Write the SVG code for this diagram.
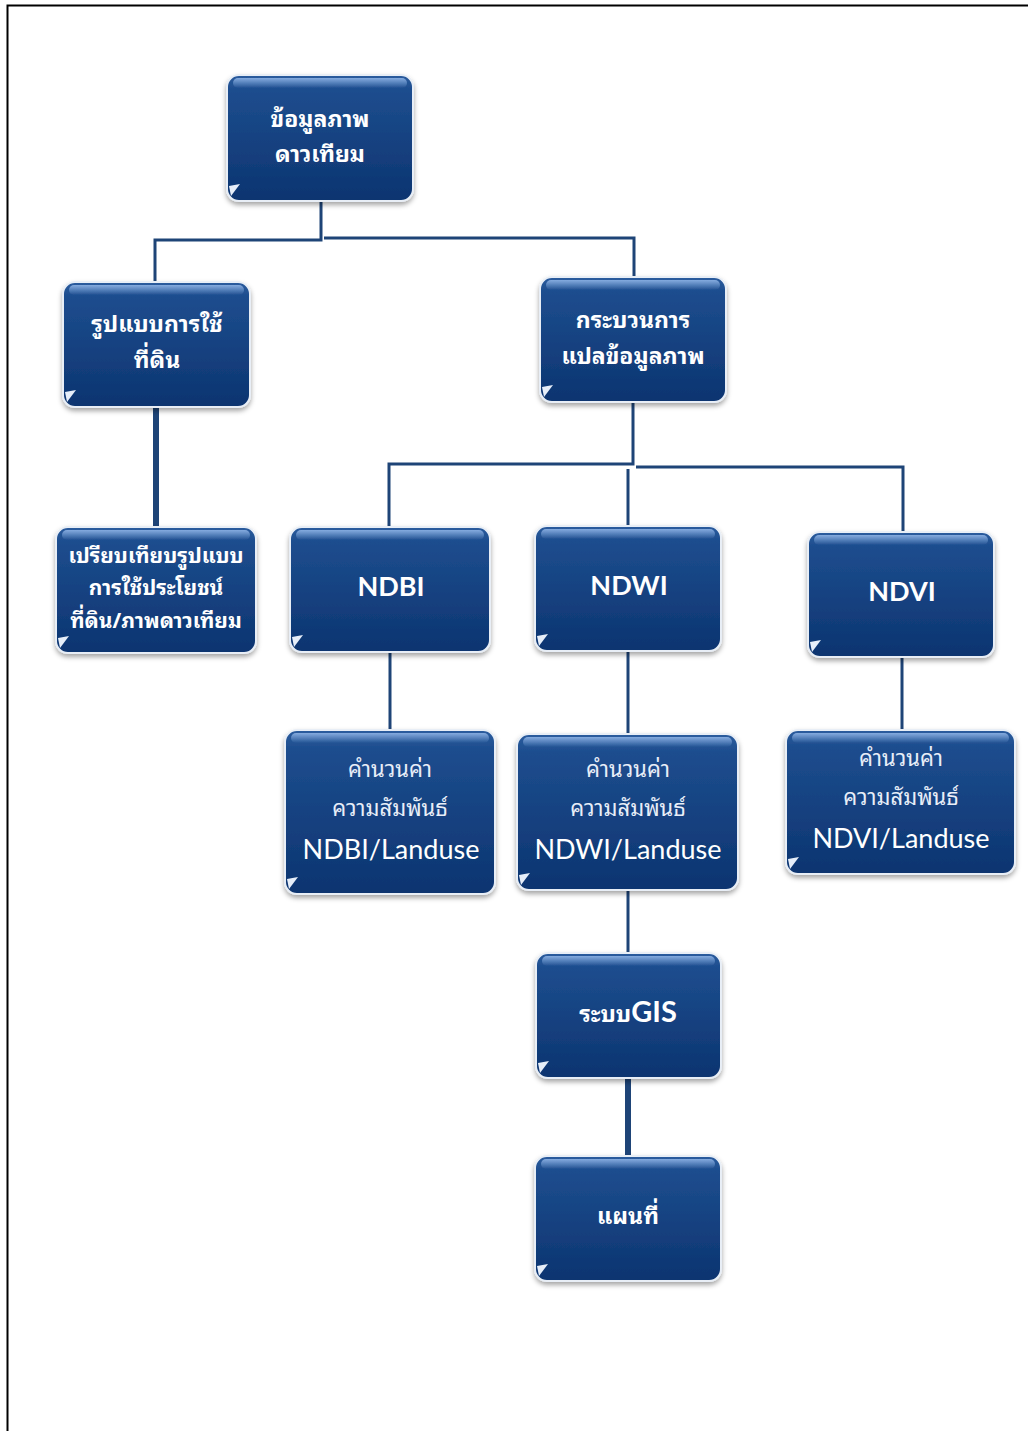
<svg xmlns="http://www.w3.org/2000/svg" width="1028" height="1431" viewBox="0 0 1028 1431">
<defs>
<linearGradient id="boxg" x1="0" y1="0" x2="0" y2="1">
<stop offset="0" stop-color="#2b5c9e"/>
<stop offset="0.12" stop-color="#1d4d8e"/>
<stop offset="1" stop-color="#0c3470"/>
</linearGradient>
<linearGradient id="hi" x1="0" y1="0" x2="0" y2="1">
<stop offset="0" stop-color="#8fb4e6" stop-opacity="0.9"/>
<stop offset="1" stop-color="#8fb4e6" stop-opacity="0"/>
</linearGradient>
<filter id="sh" x="-10%" y="-10%" width="120%" height="125%">
<feDropShadow dx="0" dy="3" stdDeviation="2.5" flood-color="#000" flood-opacity="0.35"/>
</filter>
<style>
.box{fill:url(#boxg);stroke:#e8eef6;stroke-width:2;filter:url(#sh)}
.hl{fill:url(#hi)}
.tri{fill:#e6eef9}
.th{font-family:"Noto Sans Thai Looped","Loma","Garuda","Tahoma","Noto Serif Thai","Noto Sans Thai","DejaVu Sans",sans-serif;fill:#fff;text-anchor:middle}
.thb{font-size:23px;font-weight:bold}
.thl{font-size:22px;font-weight:normal;fill:#e8eef8}
.en{font-family:"Lato","Open Sans","Liberation Sans",sans-serif;fill:#fff;text-anchor:middle}
.enb{font-size:27px;font-weight:bold}
.enl{font-size:27px;font-weight:normal}
.c{stroke:#1e4477;stroke-width:3;fill:none}
.ct{stroke:#1e4477;stroke-width:6;fill:none}
</style>
</defs>
<rect x="0" y="0" width="1028" height="1431" fill="#fff"/>
<path d="M7.5 1431 V5.5 H1028" fill="none" stroke="#000" stroke-width="2"/>

<g id="connectors">
<path class="c" d="M321 201 V240 H155 V281"/>
<path class="c" d="M324 238 H634 V277"/>
<path class="ct" d="M156 407 V527"/>
<path class="c" d="M633 402 V464 H389 V526"/>
<path class="c" d="M636 467 H903 V531"/>
<path class="c" d="M628 469 V525"/>
<path class="c" d="M390 652 V729"/>
<path class="c" d="M628 650 V733"/>
<path class="c" d="M902 657 V729" stroke-width="4"/>
<path class="c" d="M628 890 V952"/>
<path class="ct" d="M628 1078 V1156" stroke-width="5"/>
</g>

<g id="n1">
<rect class="box" x="227" y="75" width="186" height="126" rx="12"/>
<rect class="hl" x="233" y="78" width="174" height="10" rx="5"/>
<path class="tri" d="M229 186 L240 184 L231 196 Z"/>
<text class="th thb" x="320" y="127">ข้อมูลภาพ</text>
<text class="th thb" x="320" y="162">ดาวเทียม</text>
</g>

<g id="n2">
<rect class="box" x="63" y="282" width="187" height="125" rx="12"/>
<rect class="hl" x="69" y="285" width="175" height="10" rx="5"/>
<path class="tri" d="M65 392 L76 390 L67 402 Z"/>
<text class="th thb" x="157" y="332">รูปแบบการใช้</text>
<text class="th thb" x="157" y="368">ที่ดิน</text>
</g>

<g id="n3">
<rect class="box" x="540" y="277" width="186" height="125" rx="12"/>
<rect class="hl" x="546" y="280" width="174" height="10" rx="5"/>
<path class="tri" d="M542 387 L553 385 L544 397 Z"/>
<text class="th thb" x="633" y="328">กระบวนการ</text>
<text class="th thb" x="633" y="364">แปลข้อมูลภาพ</text>
</g>

<g id="n4">
<rect class="box" x="56" y="527" width="200" height="126" rx="12"/>
<rect class="hl" x="62" y="530" width="188" height="10" rx="5"/>
<path class="tri" d="M58 638 L69 636 L60 648 Z"/>
<text class="th" font-size="21" font-weight="bold" x="156" y="563">เปรียบเทียบรูปแบบ</text>
<text class="th" font-size="21" font-weight="bold" x="156" y="595">การใช้ประโยชน์</text>
<text class="th" font-size="21" font-weight="bold" x="156" y="628">ที่ดิน/ภาพดาวเทียม</text>
</g>

<g id="n5">
<rect class="box" x="290" y="527" width="200" height="125" rx="12"/>
<rect class="hl" x="296" y="530" width="188" height="10" rx="5"/>
<path class="tri" d="M292 637 L303 635 L294 647 Z"/>
<text class="en enb" x="391" y="596">NDBI</text>
</g>

<g id="n6">
<rect class="box" x="535" y="526" width="186" height="125" rx="12"/>
<rect class="hl" x="541" y="529" width="174" height="10" rx="5"/>
<path class="tri" d="M537 636 L548 634 L539 646 Z"/>
<text class="en enb" x="629" y="595">NDWI</text>
</g>

<g id="n7">
<rect class="box" x="808" y="532" width="186" height="125" rx="12"/>
<rect class="hl" x="814" y="535" width="174" height="10" rx="5"/>
<path class="tri" d="M810 642 L821 640 L812 652 Z"/>
<text class="en enb" x="902" y="601">NDVI</text>
</g>

<g id="n8">
<rect class="box" x="285" y="730" width="210" height="164" rx="12"/>
<rect class="hl" x="291" y="733" width="198" height="10" rx="5"/>
<path class="tri" d="M287 879 L298 877 L289 889 Z"/>
<text class="th thl" x="390" y="777">คำนวนค่า</text>
<text class="th thl" x="390" y="816">ความสัมพันธ์</text>
<text class="en enl" x="391" y="859">NDBI/Landuse</text>
</g>

<g id="n9">
<rect class="box" x="517" y="734" width="221" height="156" rx="12"/>
<rect class="hl" x="523" y="737" width="209" height="10" rx="5"/>
<path class="tri" d="M519 875 L530 873 L521 885 Z"/>
<text class="th thl" x="628" y="777">คำนวนค่า</text>
<text class="th thl" x="628" y="816">ความสัมพันธ์</text>
<text class="en enl" x="628" y="859">NDWI/Landuse</text>
</g>

<g id="n10">
<rect class="box" x="786" y="730" width="229" height="144" rx="12"/>
<rect class="hl" x="792" y="733" width="217" height="10" rx="5"/>
<path class="tri" d="M788 859 L799 857 L790 869 Z"/>
<text class="th thl" x="901" y="766">คำนวนค่า</text>
<text class="th thl" x="901" y="805">ความสัมพันธ์</text>
<text class="en enl" x="901" y="848">NDVI/Landuse</text>
</g>

<g id="n11">
<rect class="box" x="536" y="953" width="185" height="125" rx="12"/>
<rect class="hl" x="542" y="956" width="173" height="10" rx="5"/>
<path class="tri" d="M538 1063 L549 1061 L540 1073 Z"/>
<text x="628" y="1022" text-anchor="middle" fill="#fff"><tspan font-family="Noto Sans Thai Looped,Loma,Garuda,Tahoma,Noto Serif Thai,sans-serif" font-size="23" font-weight="bold">ระบบ</tspan><tspan font-family="Lato,Open Sans,sans-serif" font-size="29" font-weight="bold">GIS</tspan></text>
</g>

<g id="n12">
<rect class="box" x="535" y="1156" width="186" height="125" rx="12"/>
<rect class="hl" x="541" y="1159" width="174" height="10" rx="5"/>
<path class="tri" d="M537 1266 L548 1264 L539 1276 Z"/>
<text class="th thb" x="628" y="1224">แผนที่</text>
</g>
</svg>
